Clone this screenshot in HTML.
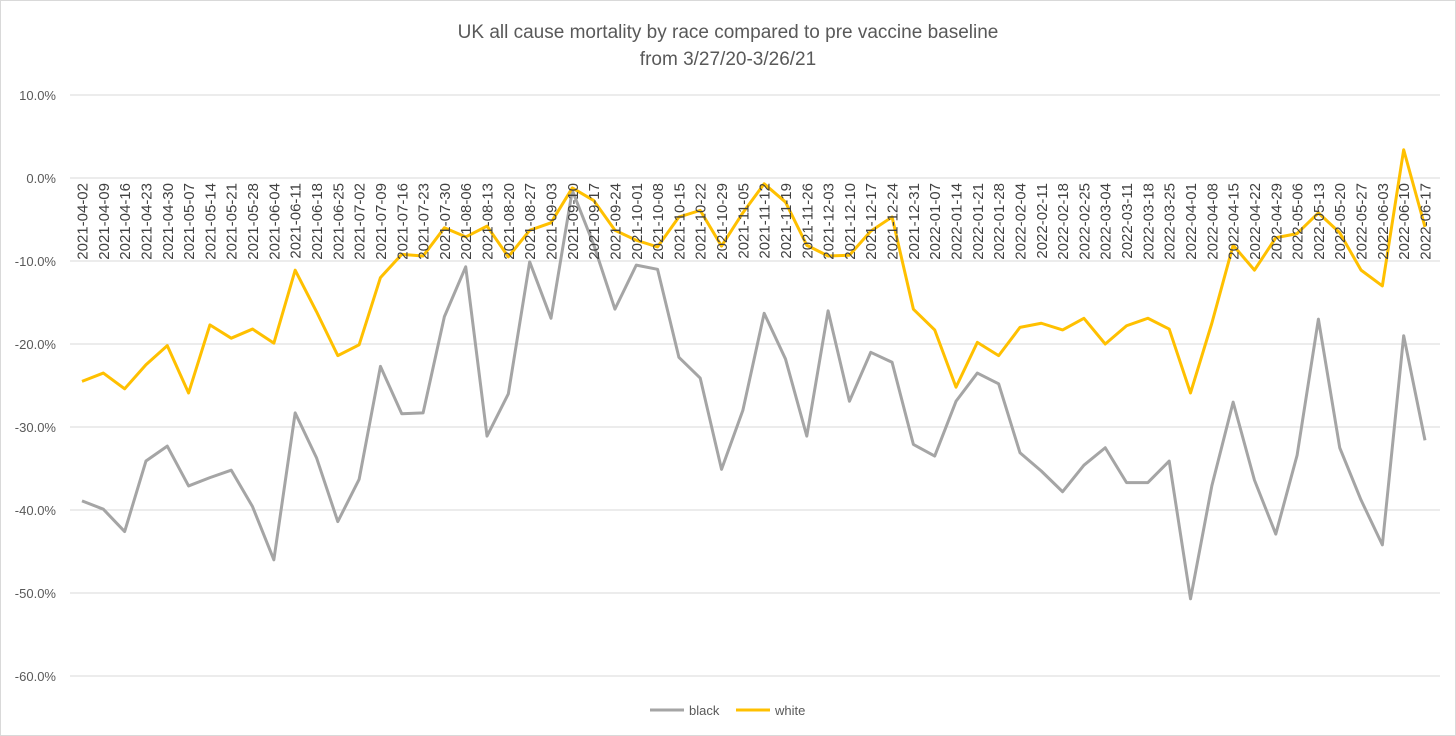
<!DOCTYPE html>
<html><head><meta charset="utf-8"><style>
html,body{margin:0;padding:0;background:#fff}
svg{display:block;font-family:"Liberation Sans",sans-serif}
</style></head><body>
<svg id="chart" width="1456" height="736">
<rect x="0.5" y="0.5" width="1455" height="735" fill="#fff" stroke="#d9d9d9"/>
<text x="728" y="38" text-anchor="middle" font-size="19" fill="#595959">UK all cause mortality by race compared to pre vaccine baseline</text>
<text x="728" y="65" text-anchor="middle" font-size="19" fill="#595959">from 3/27/20-3/26/21</text>
<g id="grid"></g><g id="yticks"></g><g id="series"></g><g id="xlabels"></g>
<g>
<line x1="650" y1="710" x2="684" y2="710" stroke="#A5A5A5" stroke-width="3"/>
<text x="689" y="715" font-size="13" fill="#595959">black</text>
<line x1="736" y1="710" x2="770" y2="710" stroke="#FFC000" stroke-width="3"/>
<text x="775" y="715" font-size="13" fill="#595959">white</text>
</g>
</svg>
<script>
const yTicks=[10,0,-10,-20,-30,-40,-50,-60];
const black=[-38.9,-39.9,-42.6,-34.1,-32.3,-37.1,-36.1,-35.2,-39.6,-46,-28.3,-33.7,-41.4,-36.3,-22.7,-28.4,-28.3,-16.7,-10.7,-31.1,-26,-10.1,-16.9,-1.5,-8,-15.8,-10.5,-11,-21.6,-24.1,-35.1,-28,-16.3,-21.8,-31.1,-16,-26.9,-21,-22.2,-32.1,-33.5,-26.9,-23.5,-24.8,-33.1,-35.3,-37.8,-34.6,-32.5,-36.7,-36.7,-34.1,-50.7,-37.1,-27,-36.4,-42.9,-33.4,-17,-32.5,-38.8,-44.2,-19,-31.6];
const white=[-24.5,-23.5,-25.4,-22.5,-20.2,-25.9,-17.7,-19.3,-18.2,-19.9,-11.1,-16.1,-21.4,-20.1,-12,-9.2,-9.4,-6,-7.1,-5.8,-9.5,-6.3,-5.4,-1.2,-2.7,-6.3,-7.5,-8.3,-4.7,-3.9,-8.2,-4.2,-0.7,-2.9,-8.1,-9.4,-9.3,-6.4,-4.7,-15.8,-18.3,-25.2,-19.8,-21.4,-18,-17.5,-18.3,-16.9,-20,-17.8,-16.9,-18.2,-25.9,-17.5,-8.1,-11.1,-7.2,-6.7,-4.2,-6.6,-11.1,-13,3.4,-5.9];
const startDate="2021-04-02";
const NS="http://www.w3.org/2000/svg";
const n=black.length;
const dates=[];
{const d0=new Date(startDate+"T00:00:00Z");for(let i=0;i<n;i++){const d=new Date(d0.getTime()+i*7*86400000);dates.push(d.toISOString().slice(0,10));}}
const x0=82,x1=1425;
function X(i){return x0+(x1-x0)*i/(n-1);}
function Y(v){return 178-v*8.3;}
function mk(t,a,p){const e=document.createElementNS(NS,t);for(const k in a)e.setAttribute(k,a[k]);p.appendChild(e);return e;}
const grid=document.getElementById('grid'),yt=document.getElementById('yticks');
yTicks.forEach(v=>{
 const l=mk('line',{x1:70,x2:1440,y1:Y(v),y2:Y(v),stroke:'#d9d9d9','stroke-width':1},grid);
 
 
 const t=mk('text',{x:56,y:Y(v)+5,'text-anchor':'end','font-size':13,fill:'#595959'},yt);
 t.textContent=v.toFixed(1)+'%';
 
 
});
const xl=document.getElementById('xlabels');
dates.forEach((d,i)=>{
 const t=mk('text',{transform:`translate(${X(i)+5.5},183) rotate(-90)`,'text-anchor':'end','font-size':15,fill:'#404040'},xl);
 t.textContent=d;
 
 
});
const sg=document.getElementById('series');
function line(arr,color,name){
 const p=mk('polyline',{points:arr.map((v,i)=>X(i)+','+Y(v)).join(' '),fill:'none',stroke:color,'stroke-width':3,'stroke-linejoin':'round'},sg);
 
 
}
line(black,'#A5A5A5','black-series-line');
line(white,'#FFC000','white-series-line');
</script>
</body></html>
